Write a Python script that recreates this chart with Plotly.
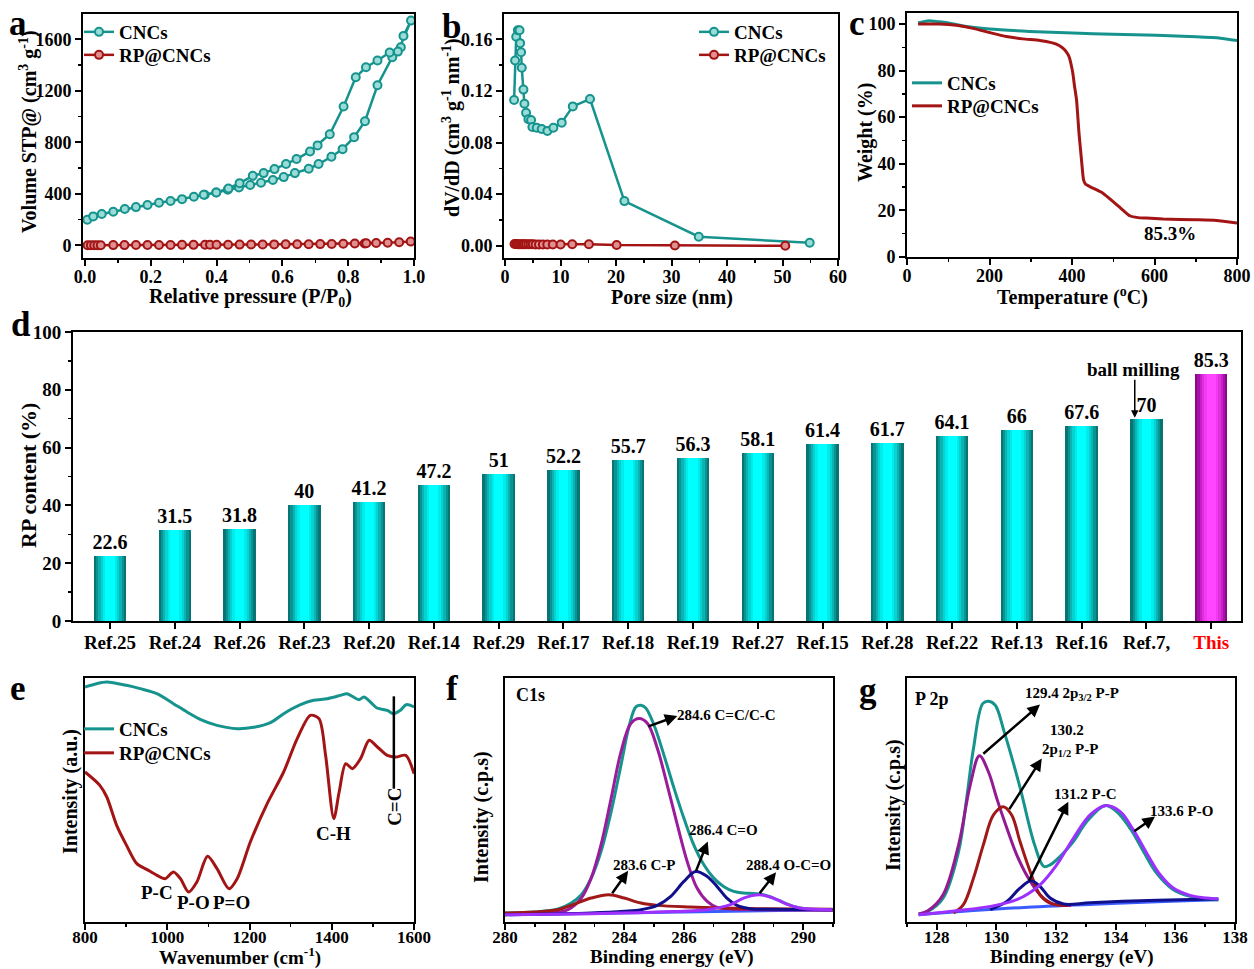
import plotly.graph_objects as go

W, H = 1254, 969
def fx(p): return p / W
def fy(p): return 1 - p / H

TEAL = "#17938e"
DRED = "#a31414"
FONT = "Liberation Serif"
TICK = 18
TITLE = 20

# ---------------- panel a: N2 isotherms ----------------
a_cnc_x = [0.007, 0.025, 0.051, 0.086, 0.121, 0.155, 0.19, 0.225, 0.26, 0.295, 0.331, 0.364, 0.399, 0.434,
           0.468, 0.502, 0.535, 0.571, 0.604, 0.638, 0.68, 0.71, 0.749, 0.783, 0.818, 0.851, 0.889, 0.934,
           0.96, 0.968, 0.991,
           0.951, 0.926, 0.889, 0.854, 0.823, 0.786, 0.744, 0.707, 0.684, 0.643, 0.611, 0.576, 0.543, 0.51,
           0.47, 0.436, 0.399, 0.361]
a_cnc_y = [199, 225, 243, 261, 282, 297, 313, 331, 344, 359, 377, 393, 411, 432,
           450, 468, 486, 507, 530, 561, 595, 631, 688, 747, 840, 964, 1243, 1461,
           1538, 1626, 1745,
           1504, 1497, 1435, 1383, 1305, 1078, 863, 776, 729, 670, 631, 592, 561, 540,
           483, 442, 411, 393]
a_rp_x = [0.008, 0.018, 0.028, 0.038, 0.048, 0.086, 0.12, 0.155, 0.19, 0.225, 0.26, 0.295, 0.33, 0.365,
          0.38, 0.40, 0.435, 0.47, 0.505, 0.54, 0.575, 0.61, 0.645, 0.68, 0.715, 0.75, 0.785, 0.82,
          0.85, 0.855, 0.885, 0.92, 0.955, 0.99]
a_rp_y = [1, 1, 1, 1.5, 1.5, 2, 2, 2.5, 3, 3, 3.5, 4, 4, 4.5, 4.5, 5, 5.5, 6, 6.5, 7, 7.5, 8, 8.5, 9,
          10, 11, 12, 14, 15, 16, 18, 20, 24, 30]

# ---------------- panel b: pore size distribution ----------------
b_cnc_x = [1.62, 1.8, 2.0, 2.3, 2.6, 2.7, 2.88, 3.0, 3.3, 3.48, 3.78, 4.2, 4.68, 4.92, 5.7, 6.6, 7.62,
           8.7, 10.2, 12.2, 15.3, 21.5, 34.9, 54.9]
b_cnc_y = [0.113, 0.1435, 0.162, 0.167, 0.167, 0.157, 0.150, 0.138, 0.121, 0.110, 0.103, 0.098, 0.0975,
           0.092, 0.0915, 0.0905, 0.089, 0.0915, 0.0954, 0.108, 0.1137, 0.0346, 0.007, 0.0023]
b_rp_x = [1.7, 2.0, 2.3, 2.6, 2.9, 3.2, 3.5, 3.8, 4.2, 4.6, 5.0, 5.5, 6.1, 6.8, 7.6, 8.6, 10.0, 12.1,
          15.1, 20.1, 30.6, 50.5]
b_rp_y = [0.0013, 0.0013, 0.0012, 0.0012, 0.0012, 0.0012, 0.0011, 0.0011, 0.0011, 0.0011, 0.0011, 0.001,
          0.001, 0.001, 0.001, 0.001, 0.001, 0.0012, 0.0012, 0.0006, 0.0002, 0.0]

# ---------------- panel c: TGA ----------------
c_cnc_x = [27, 40, 55, 75, 95, 136, 200, 297, 402, 499, 604, 701, 760, 800]
c_cnc_y = [100.4, 101.0, 101.4, 101.0, 100.6, 99.1, 97.8, 96.8, 96.1, 95.6, 95.1, 94.5, 93.9, 92.9]
c_rp_x = [27, 79, 120, 160, 200, 241, 281, 322, 350, 362, 375, 382, 390, 394, 398, 402, 406, 411, 417,
          423, 428, 433, 439, 449, 459, 475, 499, 524, 540, 560, 580, 621, 701, 750, 800]
c_rp_y = [100, 100, 99.4, 98.1, 96.3, 94.6, 93.6, 92.9, 92.0, 91.3, 90.0, 88.9, 87.0, 85.4, 82.5, 78.9,
          73.5, 67.4, 53.1, 41.7, 33.1, 31.2, 30.6, 29.7, 28.9, 27.4, 23.9, 20.0, 17.7, 16.9, 16.7, 16.3,
          16.0, 15.7, 14.6]

# ---------------- panel d: RP content comparison ----------------
d_refs = ["Ref.25", "Ref.24", "Ref.26", "Ref.23", "Ref.20", "Ref.14", "Ref.29", "Ref.17", "Ref.18",
          "Ref.19", "Ref.27", "Ref.15", "Ref.28", "Ref.22", "Ref.13", "Ref.16", "Ref.7,", "This"]
d_vals = [22.6, 31.5, 31.8, 40, 41.2, 47.2, 51, 52.2, 55.7, 56.3, 58.1, 61.4, 61.7, 64.1, 66, 67.6, 70, 85.3]

# ---------------- panel e: FTIR ----------------
e_cnc_x = [800, 828, 853, 901, 934, 975, 1015, 1048, 1080, 1121, 1170, 1210, 1251, 1283, 1324, 1356,
           1389, 1421, 1437, 1450, 1466, 1478, 1494, 1510, 1535, 1550, 1567, 1581, 1600]
e_cnc_y = [705, 715, 720, 710, 700, 685, 655, 630, 608, 590, 580, 584, 598, 625, 652, 665, 670, 680,
           685, 677, 667, 675, 660, 642, 635, 625, 635, 652, 645]
e_rp_x = [800, 836, 853, 877, 901, 926, 950, 975, 995, 1015, 1032, 1052, 1072, 1098, 1121, 1150, 1170,
          1202, 1243, 1283, 1316, 1348, 1369, 1385, 1405, 1418, 1434, 1450, 1470, 1491, 1511, 1535,
          1556, 1580, 1600]
e_rp_y = [450, 410, 375, 290, 230, 175, 158, 140, 130, 150, 130, 90, 120, 197, 160, 100, 130, 240, 355,
          450, 550, 620, 610, 500, 310, 390, 475, 460, 490, 545, 525, 500, 495, 500, 445]

# ---------------- panel f: C1s XPS ----------------
f_env_x = [280.0, 281.0, 281.78, 282.22, 282.56, 282.89, 283.22, 283.56, 283.89, 284.17, 284.39, 284.56,
           284.72, 285.0, 285.33, 285.67, 286.0, 286.33, 286.67, 287.0, 287.33, 287.67, 288.0, 288.33,
           288.67, 289.0, 289.33, 289.67, 290.11, 290.98]
f_env_y = [27, 30, 39, 57, 82, 132, 212, 332, 472, 592, 647, 652, 644, 592, 502, 402, 312, 232, 172,
           132, 107, 92, 87, 86, 82, 72, 59, 47, 39, 37]
f_cc_x = [280, 281.56, 282.11, 282.56, 282.89, 283.22, 283.56, 283.89, 284.22, 284.5, 284.78, 285.11,
          285.44, 285.78, 286.11, 286.44, 286.78, 287.11, 287.56, 288.44, 291]
f_cc_y = [24, 27, 37, 72, 132, 232, 372, 512, 597, 612, 597, 522, 412, 292, 182, 102, 62, 44, 39, 37, 35]
f_cp_x = [280, 281, 281.78, 282.33, 282.89, 283.48, 284, 284.56, 285.11, 286.22, 287.33, 288.44, 290.98]
f_cp_y = [27, 30, 37, 54, 72, 82, 72, 57, 50, 45, 42, 40, 38]
f_co_x = [280, 282.89, 284, 284.56, 285.11, 285.56, 286, 286.39, 286.78, 287.11, 287.44, 287.78, 288.22,
          289, 290.98]
f_co_y = [22, 27, 32, 37, 50, 77, 122, 152, 137, 107, 72, 50, 40, 38, 37]
f_oco_x = [280, 282.89, 285.11, 286.78, 287.56, 288, 288.53, 289, 289.44, 289.89, 290.98]
f_oco_y = [22, 25, 30, 37, 52, 72, 82, 72, 54, 42, 37]
f_base_x = [280, 291]
f_base_y = [22, 37]

# ---------------- panel g: P2p XPS ----------------
g_env_x = [127.39, 127.70, 128.21, 128.73, 129.0, 129.23, 129.54, 129.74, 129.96, 130.26, 130.77, 131.28,
           131.59, 131.80, 132.13, 132.58, 133.03, 133.64, 134.03, 134.48, 134.93, 135.37, 135.93,
           136.49, 137.05, 137.44]
g_env_y = [24, 32, 72, 212, 372, 522, 657, 664, 652, 572, 412, 232, 167, 172, 197, 242, 302, 350, 332,
           282, 212, 147, 97, 77, 69, 67]
g_p32_x = [127.39, 127.70, 128.21, 128.73, 129.12, 129.43, 129.73, 130.01, 130.35, 130.68, 131.07,
           131.46, 131.91, 132.5]
g_p32_y = [24, 34, 82, 232, 412, 500, 452, 372, 282, 202, 132, 82, 54, 50]
g_p12_x = [128.56, 128.89, 129.23, 129.56, 129.9, 130.23, 130.51, 130.79, 131.13, 131.46, 131.80, 132.4]
g_p12_y = [27, 52, 132, 232, 322, 347, 322, 242, 152, 82, 57, 50]
g_pc_x = [129.79, 130.35, 130.79, 131.16, 131.46, 131.80, 132.25, 133.14, 134.82, 136.49, 137.44]
g_pc_y = [37, 62, 102, 124, 107, 72, 54, 58, 64, 68, 69]
g_po_x = [127.39, 128.67, 129.79, 130.68, 131.46, 132.02, 132.58, 133.14, 133.64, 134.15, 134.59,
          135.04, 135.49, 135.93, 136.49, 137.05, 137.44]
g_po_y = [22, 34, 47, 67, 112, 172, 252, 322, 350, 332, 277, 207, 142, 102, 80, 72, 69]
g_base_x = [127.39, 131.2, 137.44]
g_base_y = [22, 45, 67]

fig = go.Figure()

def bold(size, color="black"):
    return dict(family=FONT, size=size, color=color, weight="bold")

MK_T = dict(symbol="circle", size=8, color="#9adcd8", line=dict(color=TEAL, width=2))
MK_R = dict(symbol="circle", size=8, color="#e09090", line=dict(color=DRED, width=2))

# ---- a
fig.add_trace(go.Scatter(x=a_cnc_x, y=a_cnc_y, mode="lines+markers", name="CNCs",
                         line=dict(color=TEAL, width=2.5), marker=MK_T,
                         xaxis="x", yaxis="y", legend="legend"))
fig.add_trace(go.Scatter(x=a_rp_x, y=a_rp_y, mode="lines+markers", name="RP@CNCs",
                         line=dict(color=DRED, width=2.5), marker=MK_R,
                         xaxis="x", yaxis="y", legend="legend2"))
# ---- b
fig.add_trace(go.Scatter(x=b_cnc_x, y=b_cnc_y, mode="lines+markers", name="CNCs",
                         line=dict(color=TEAL, width=2.5), marker=MK_T,
                         xaxis="x2", yaxis="y2", legend="legend3"))
fig.add_trace(go.Scatter(x=b_rp_x, y=b_rp_y, mode="lines+markers", name="RP@CNCs",
                         line=dict(color=DRED, width=2.5), marker=MK_R,
                         xaxis="x2", yaxis="y2", legend="legend4"))
# ---- c
fig.add_trace(go.Scatter(x=c_cnc_x, y=c_cnc_y, mode="lines", name="CNCs",
                         line=dict(color=TEAL, width=3, shape="spline", smoothing=0.5),
                         xaxis="x3", yaxis="y3", legend="legend5"))
fig.add_trace(go.Scatter(x=c_rp_x, y=c_rp_y, mode="lines", name="RP@CNCs",
                         line=dict(color=DRED, width=3, shape="spline", smoothing=0.5),
                         xaxis="x3", yaxis="y3", legend="legend6"))

# ---- d: shaded cylinders by overlaying narrowing bars
d_x = list(range(len(d_vals)))
cyan_shades = ["#077575", "#0a9393", "#0cb3b3", "#06d2d2", "#00ecec", "#00ffff"]
mag_shades = ["#870987", "#a711a7", "#c71fc7", "#df2fdf", "#f23af2", "#ff45ff"]
widths = [0.5, 0.43, 0.36, 0.29, 0.22, 0.14]
for i, (wd, cc, mc) in enumerate(zip(widths, cyan_shades, mag_shades)):
    cols = [cc] * (len(d_vals) - 1) + [mc]
    fig.add_trace(go.Bar(x=d_x, y=d_vals, width=wd, marker=dict(color=cols, line=dict(width=0)),
                         text=[f"{v:g}" for v in d_vals] if i == 0 else None,
                         textposition="outside" if i == 0 else "none",
                         textfont=bold(20), constraintext="none", cliponaxis=False,
                         showlegend=False, xaxis="x4", yaxis="y4", hoverinfo="skip"))

# ---- e
fig.add_trace(go.Scatter(x=e_cnc_x, y=e_cnc_y, mode="lines", name="CNCs",
                         line=dict(color=TEAL, width=3, shape="spline", smoothing=0.8),
                         xaxis="x5", yaxis="y5", legend="legend7"))
fig.add_trace(go.Scatter(x=e_rp_x, y=e_rp_y, mode="lines", name="RP@CNCs",
                         line=dict(color=DRED, width=3, shape="spline", smoothing=0.8),
                         xaxis="x5", yaxis="y5", legend="legend8"))

# ---- f
for xs, ys, col in [(f_base_x, f_base_y, "#3a5cff"), (f_env_x, f_env_y, TEAL), (f_cc_x, f_cc_y, "#9a1c9a"),
                    (f_cp_x, f_cp_y, "#a01818"), (f_co_x, f_co_y, "#10108c"), (f_oco_x, f_oco_y, "#a030ff")]:
    fig.add_trace(go.Scatter(x=xs, y=ys, mode="lines", line=dict(color=col, width=3, shape="spline", smoothing=1),
                             showlegend=False, xaxis="x6", yaxis="y6"))
# ---- g
for xs, ys, col in [(g_base_x, g_base_y, "#3a5cff"), (g_env_x, g_env_y, TEAL), (g_p32_x, g_p32_y, "#931a93"),
                    (g_p12_x, g_p12_y, "#a01818"), (g_pc_x, g_pc_y, "#10108c"), (g_po_x, g_po_y, "#9b30ff")]:
    fig.add_trace(go.Scatter(x=xs, y=ys, mode="lines", line=dict(color=col, width=3, shape="spline", smoothing=1),
                             showlegend=False, xaxis="x7", yaxis="y7"))


def axis(dom, rng, anchor, dtick=None, minor=None, fmt=None, hide=False, standoff=0, tsize=TICK):
    d = dict(domain=dom, range=rng, anchor=anchor, showline=True, linecolor="black", linewidth=2,
             mirror=True, showgrid=False, zeroline=False, ticks="outside", ticklen=6, tickwidth=2,
             tickcolor="black", tickfont=bold(tsize), fixedrange=True, automargin=False,
             ticklabelstandoff=standoff)
    if dtick is not None:
        d.update(tick0=0, dtick=dtick)
    if minor is not None:
        d["minor"] = dict(tick0=0, dtick=minor, ticks="outside", ticklen=3, tickwidth=1.5,
                          tickcolor="black", showgrid=False)
    if fmt:
        d["tickformat"] = fmt
    if hide:
        d.update(ticks="", showticklabels=False)
    return d

def xd(l, r): return [fx(l), fx(r)]
def yd(t, b): return [fy(b), fy(t)]

TOP = (14, 258)
BOT = (678, 922)
SO = -5
SOB = -7
layout_axes = dict(
    xaxis=axis(xd(83, 414), [-0.006, 1.0], "y", 0.2, 0.1, ".1f", standoff=SO),
    yaxis=axis(yd(*TOP), [-98, 1796], "x", 400, 200),
    xaxis2=axis(xd(504, 838), [-0.2, 60], "y2", 10, 5, standoff=SO),
    yaxis2=axis(yd(*TOP), [-0.0095, 0.1796], "x2", 0.04, 0.02, ".2f"),
    xaxis3=axis(xd(907, 1237), [0, 800], "y3", 200, 100, standoff=SO),
    yaxis3=axis(yd(13, 257), [0, 104.7], "x3", 20, 10),
    xaxis4=dict(axis(xd(73, 1241), [-0.571, 17.46], "y4", standoff=-3), tickmode="array", tickvals=d_x,
                ticktext=d_refs[:-1] + ["<span style='color:#ff0000'>This</span>"], tickfont=bold(19)),
    yaxis4=dict(axis(yd(332, 621), [0, 100], "x4", 20, 10), tickfont=bold(19)),
    xaxis5=axis(xd(85, 414), [800, 1600], "y5", 200, 100, standoff=SOB, tsize=17),
    yaxis5=axis(yd(*BOT), [0, 732], "x5", hide=True),
    xaxis6=axis(xd(505, 833), [280, 291], "y6", 2, 1, standoff=SOB, tsize=17),
    yaxis6=axis(yd(*BOT), [0, 734], "x6", hide=True),
    xaxis7=axis(xd(907, 1235), [127, 138], "y7", 2, 1, standoff=SOB, tsize=17),
    yaxis7=axis(yd(*BOT), [0, 734], "x7", hide=True),
)

def leg(x, y):
    # x: pixel where legend text should start; y: pixel centre of the entry
    return dict(x=fx(x - 41), y=fy(y), xanchor="left", yanchor="middle", bgcolor="rgba(0,0,0,0)",
                font=bold(19), itemwidth=30, tracegroupgap=0, borderwidth=0)

legends = dict(
    legend=leg(120, 32), legend2=leg(120, 55),
    legend3=leg(735, 32), legend4=leg(735, 55),
    legend5=leg(948, 83), legend6=leg(948, 106),
    legend7=leg(120, 729), legend8=leg(120, 753),
)

ann = []
def paper_text(text, x, y, size, angle=0, color="black", xanchor="center"):
    ann.append(dict(text=text, x=fx(x), y=fy(y), xref="paper", yref="paper", showarrow=False,
                    font=bold(size, color), textangle=angle, xanchor=xanchor, yanchor="middle"))

# panel letters
for t, x, y in [("a", 18, 24), ("b", 452, 26), ("c", 857, 24), ("d", 21, 324), ("e", 18, 688),
                ("f", 452, 688), ("g", 868, 690)]:
    paper_text(t, x, y, 35)

# axis titles
paper_text("Relative pressure (P/P<sub>0</sub>)", 250, 298, TITLE)
paper_text("Volume STP@ (cm<sup>3</sup> g<sup>-1</sup>)", 28, 132, TITLE, -90)
paper_text("Pore size (nm)", 672, 298, TITLE)
paper_text("dV/dD (cm<sup>3</sup> g<sup>-1</sup> nm<sup>-1</sup>)", 451, 128, TITLE, -90)
paper_text("Temperature (<sup>o</sup>C)", 1072, 296, TITLE)
paper_text("Weight (%)", 866, 133, TITLE, -90)
paper_text("RP content (%)", 28, 476, 22, -90)
paper_text("Wavenumber (cm<sup>-1</sup>)", 240, 956, 19)
paper_text("Intensity (a.u.)", 70, 792, TITLE, -90)
paper_text("Binding energy (eV)", 672, 957, 19)
paper_text("Intensity (c.p.s)", 481, 817, TITLE, -90)
paper_text("Binding energy (eV)", 1072, 957, 19)
paper_text("Intensity (c.p.s)", 893, 805, TITLE, -90)

def data_text(text, x, y, xr, yr, size, angle=0, xanchor="center"):
    ann.append(dict(text=text, x=x, y=y, xref=xr, yref=yr, showarrow=False, font=bold(size),
                    textangle=angle, xanchor=xanchor, yanchor="middle"))

def arrow(hx, hy, tx, ty, xr, yr, w=2.5):
    ann.append(dict(text="", x=hx, y=hy, ax=tx, ay=ty, xref=xr, yref=yr, axref=xr, ayref=yr,
                    showarrow=True, arrowhead=2, arrowsize=1, arrowwidth=w, arrowcolor="black"))

# c
data_text("85.3%", 637, 9.9, "x3", "y3", 19)
# d
data_text("ball milling", 15.8, 86.9, "x4", "y4", 19)
arrow(15.82, 70.3, 15.82, 84.0, "x4", "y4", 1.5)
# e
data_text("P-C", 974, 90, "x5", "y5", 19)
data_text("P-O", 1064, 58, "x5", "y5", 19)
data_text("P=O", 1157, 58, "x5", "y5", 19)
data_text("C-H", 1404, 267, "x5", "y5", 19)
data_text("C=C", 1551, 345, "x5", "y5", 19, -90)
# f
data_text("C1s", 280.3, 684, "x6", "y6", 18, xanchor="left")
data_text("284.6 C=C/C-C", 287.44, 622, "x6", "y6", 15)
data_text("286.4 C=O", 287.33, 277, "x6", "y6", 15)
data_text("283.6 C-P", 284.67, 172, "x6", "y6", 15)
data_text("288.4 O-C=O", 289.5, 172, "x6", "y6", 15)
arrow(285.78, 620, 284.76, 587, "x6", "y6")
arrow(286.8, 242, 286.39, 150, "x6", "y6")
arrow(284.13, 154, 283.56, 82, "x6", "y6")
arrow(289.09, 150, 288.5, 82, "x6", "y6")
# g
data_text("P 2p", 127.2, 672, "x7", "y7", 18, xanchor="left")
data_text("129.4 2p<sub>3/2</sub> P-P", 132.55, 687, "x7", "y7", 15)
data_text("130.2", 132.36, 577, "x7", "y7", 15)
data_text("2p<sub>1/2</sub> P-P", 132.47, 517, "x7", "y7", 15)
data_text("131.2 P-C", 132.97, 385, "x7", "y7", 15)
data_text("133.6 P-O", 136.21, 335, "x7", "y7", 15)
arrow(131.46, 654, 129.51, 502, "x7", "y7")
arrow(131.52, 492, 130.4, 335, "x7", "y7")
arrow(132.41, 362, 131.07, 120, "x7", "y7")
arrow(135.32, 317, 134.57, 270, "x7", "y7")

shapes = [dict(type="line", xref="x5", yref="y5", x0=1551, x1=1551, y0=400, y1=677,
               line=dict(color="black", width=2.5))]

fig.update_layout(
    template="none",
    width=W, height=H, margin=dict(l=0, r=0, t=0, b=0, pad=0, autoexpand=False),
    paper_bgcolor="white", plot_bgcolor="white",
    font=bold(18), barmode="overlay", bargap=0,
    annotations=ann, shapes=shapes, **legends, **layout_axes,
)

fig.write_html("out.html", config={"displayModeBar": False, "staticPlot": True},
               post_script="document.body.style.margin='0px';document.body.style.overflow='hidden';")
